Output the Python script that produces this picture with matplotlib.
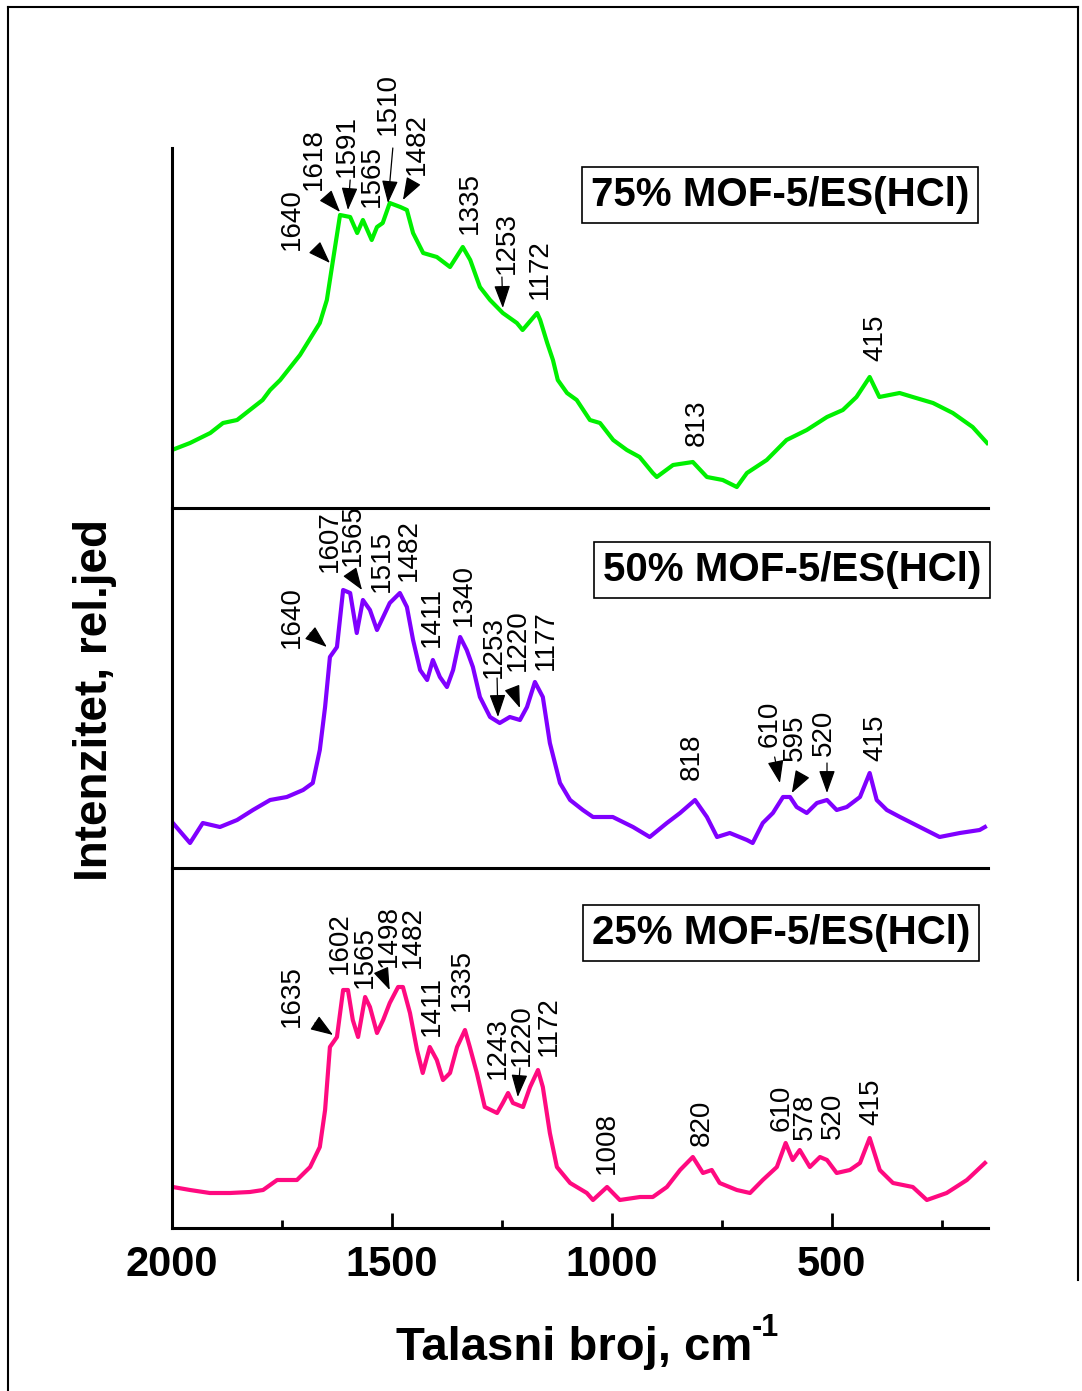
import matplotlib.pyplot as plt
from matplotlib.lines import Line2D
from matplotlib.ticker import FixedLocator
import numpy as np

plt.rcParams['font.family'] = ['Liberation Sans', 'DejaVu Sans']

# wavenumber (cm-1) and intensity (arb. units)
w75 = [2000, 1959, 1913, 1884, 1852, 1823, 1794, 1777, 1754, 1709, 1664, 1648, 1635, 1618,
       1595, 1579, 1566, 1546, 1534, 1521, 1505, 1481, 1466, 1452, 1429, 1398, 1368, 1339,
       1322, 1300, 1277, 1248, 1216, 1203, 1170, 1163, 1147, 1134, 1123, 1102, 1080, 1050,
       1027, 997, 966, 937, 907, 898, 861, 816, 784, 748, 716, 693, 648, 603, 557, 511, 475,
       444, 414, 392, 346, 316, 270, 225, 180, 147]
i75 = [58, 65, 75, 85, 88, 98, 108, 118, 128, 153, 185, 208, 245, 293,
       291, 275, 288, 268, 281, 285, 305, 301, 298, 275, 255, 251, 241, 261,
       248, 221, 208, 195, 185, 178, 195, 188, 165, 148, 128, 115, 108, 88,
       85, 68, 58, 51, 35, 31, 43, 46, 31, 28, 21, 35, 48, 68, 78, 91, 98,
       111, 131, 111, 115, 111, 105, 95, 81, 65]

w50 = [1998, 1959, 1930, 1891, 1852, 1816, 1777, 1739, 1702, 1680, 1664, 1652, 1641, 1625,
       1611, 1595, 1580, 1566, 1550, 1534, 1520, 1505, 1482, 1466, 1452, 1436, 1420, 1407,
       1391, 1375, 1361, 1345, 1330, 1316, 1300, 1277, 1255, 1232, 1209, 1193, 1175, 1157,
       1141, 1118, 1095, 1066, 1043, 998, 952, 914, 875, 845, 811, 784, 761, 732, 693, 680,
       657, 634, 611, 595, 580, 557, 534, 511, 489, 466, 436, 414, 398, 375, 345, 300, 255,
       209, 164, 152]
i50 = [45, 25, 45, 41, 48, 58, 68, 71, 78, 85, 118, 161, 211, 221,
       278, 275, 235, 268, 258, 238, 251, 265, 275, 261, 228, 198, 188, 208,
       191, 181, 198, 231, 218, 201, 171, 151, 145, 151, 148, 161, 186, 171,
       125, 85, 68, 58, 51, 51, 41, 31, 45, 55, 68, 51, 31, 35, 28, 25,
       45, 55, 71, 71, 61, 55, 65, 68, 58, 61, 71, 95, 68, 58, 51, 41, 31,
       35, 38, 41]

w25 = [1998, 1959, 1914, 1868, 1823, 1793, 1761, 1716, 1686, 1664, 1652, 1641, 1625, 1611,
       1600, 1589, 1577, 1561, 1550, 1534, 1520, 1505, 1486, 1475, 1459, 1443, 1430, 1414,
       1398, 1384, 1368, 1352, 1334, 1323, 1307, 1289, 1261, 1248, 1236, 1225, 1202, 1186,
       1168, 1157, 1141, 1125, 1095, 1057, 1043, 1011, 982, 936, 907, 875, 845, 816, 793,
       773, 755, 716, 686, 657, 625, 605, 589, 573, 550, 527, 511, 489, 459, 436, 414, 391,
       361, 316, 284, 239, 193, 152]
i25 = [41, 38, 35, 35, 36, 38, 48, 48, 61, 81, 118, 181, 191, 238,
       238, 208, 191, 231, 221, 195, 208, 225, 241, 241, 215, 178, 155, 181,
       168, 148, 155, 181, 198, 181, 155, 121, 115, 125, 135, 125, 121, 141,
       158, 141, 95, 61, 45, 35, 28, 41, 28, 31, 31, 41, 58, 71, 55,
       58, 45, 38, 35, 48, 61, 85, 68, 78, 61, 71, 68, 55, 58, 65, 90, 58,
       45, 41, 28, 35, 48, 65]

names = ['75% MOF-5/ES(HCl)', '50% MOF-5/ES(HCl)', '25% MOF-5/ES(HCl)']
colors = ['#00f000', '#8000ff', '#ff0a80']

peaks75 = ['1640', '1618', '1591', '1565', '1510', '1482', '1335', '1253', '1172', '813', '415']
peaks50 = ['1640', '1607', '1565', '1515', '1482', '1411', '1340', '1253', '1220', '1177',
           '818', '610', '595', '520', '415']
peaks25 = ['1635', '1602', '1565', '1498', '1482', '1411', '1335', '1243', '1220', '1172',
           '1008', '820', '610', '578', '520', '415']

# label positions (wavenumber, height) for each peak label
pos75 = [(1727, 289), (1677, 349), (1602, 362), (1545, 332), (1509, 404), (1443, 364),
         (1323, 305), (1239, 265), (1164, 239), (807, 85), (402, 170)]
pos50 = [(1727, 251), (1642, 327), (1588, 333), (1523, 307), (1461, 318), (1409, 251),
         (1336, 273), (1268, 221), (1213, 228), (1150, 228), (818, 111), (641, 144),
         (584, 130), (518, 135), (402, 130)]
pos25 = [(1727, 232), (1618, 285), (1561, 271), (1506, 292), (1453, 291), (1409, 222),
         (1341, 248), (1259, 180), (1205, 193), (1143, 202), (1011, 85), (795, 105),
         (614, 120), (561, 111), (498, 112), (409, 126)]
# arrows: (x0, y0, x1, y1)
arr75 = [(1670, 258, 1641, 245), (1648, 311, 1618, 296), (1595, 328, 1600, 298),
         (1498, 360, 1509, 305), (1452, 326, 1475, 308), (1250, 231, 1248, 200)]
arr50 = [(1686, 235, 1648, 221), (1591, 293, 1568, 278), (1261, 190, 1259, 151),
         (1225, 178, 1209, 160), (630, 111, 618, 85), (568, 93, 591, 75), (511, 105, 511, 75)]
arr25 = [(1675, 205, 1634, 193), (1523, 256, 1505, 238), (1209, 160, 1214, 131)]

boxpos = [(618, 313), (591, 298), (616, 295)]

W, H = 1082, 1391
fig = plt.figure(figsize=(W / 100, H / 100), dpi=100)

# outer frame
fig.add_artist(Line2D([8 / W, 8 / W], [0, 1 - 7 / H], color='k', lw=1.5))
fig.add_artist(Line2D([8 / W, 1078 / W], [1 - 7 / H, 1 - 7 / H], color='k', lw=1.5))
fig.add_artist(Line2D([1078 / W, 1078 / W], [1 - 1280 / H, 1 - 7 / H], color='k', lw=1.5))

left = 172 / W
width = (988 - 172) / W
tops = [148, 508, 868]
data = [(w75, i75), (w50, i50), (w25, i25)]
peaks = [peaks75, peaks50, peaks25]
poss = [pos75, pos50, pos25]
arrs = [arr75, arr50, arr25]

for k in range(3):
    ax = fig.add_axes([left, 1 - (tops[k] + 360) / H, width, 360 / H])
    ax.plot(data[k][0], data[k][1], color=colors[k], lw=3)
    ax.set_xlim(2000, 145)
    ax.set_ylim(0, 360)
    ax.set_yticks([])
    for s in ['top', 'right']:
        ax.spines[s].set_visible(False)
    for s in ['left', 'bottom']:
        ax.spines[s].set_linewidth(2.2)
    ax.patch.set_alpha(0)
    for lab, (tx, ty) in zip(peaks[k], poss[k]):
        ax.text(tx, ty, lab, rotation=90, ha='center', va='center', fontsize=20,
                clip_on=False)
    for (x0, y0, x1, y1) in arrs[k]:
        ax.annotate('', xy=(x1, y1), xytext=(x0, y0), annotation_clip=False,
                    arrowprops=dict(arrowstyle='-|>,head_length=0.7,head_width=0.25',
                                    color='k', lw=0.9, mutation_scale=20,
                                    shrinkA=0, shrinkB=0))
    ax.text(boxpos[k][0], boxpos[k][1], names[k], ha='center', va='center',
            fontsize=29, fontweight='bold', clip_on=False,
            bbox=dict(boxstyle='square,pad=0.22', fc='white', ec='k', lw=1.2))
    if k < 2:
        ax.set_xticks([])
    else:
        ax.xaxis.set_major_locator(FixedLocator([2000, 1500, 1000, 500]))
        ax.xaxis.set_minor_locator(FixedLocator([1750, 1250, 750, 250]))
        ax.tick_params(axis='x', which='major', direction='in', length=11, width=2,
                       labelsize=30, pad=12)
        ax.tick_params(axis='x', which='minor', direction='in', length=6, width=2)
        for t in ax.get_xticklabels():
            t.set_fontweight('bold')

fig.text(95 / W, 1 - 700 / H, 'Intenzitet, rel.jed', rotation=90, ha='center',
         va='center', fontsize=33, fontweight='bold')
xl = fig.text(574 / W, 1 - 1348 / H, 'Talasni broj, cm', ha='center',
              va='center', fontsize=34, fontweight='bold')
# superscript hung on the end of the x label
fig.add_artist(plt.Annotation('-1', xy=(1.0, 0.95), xycoords=xl, ha='left', va='center',
                              fontsize=22, fontweight='bold'))

fig.savefig('out.png', dpi=100)
